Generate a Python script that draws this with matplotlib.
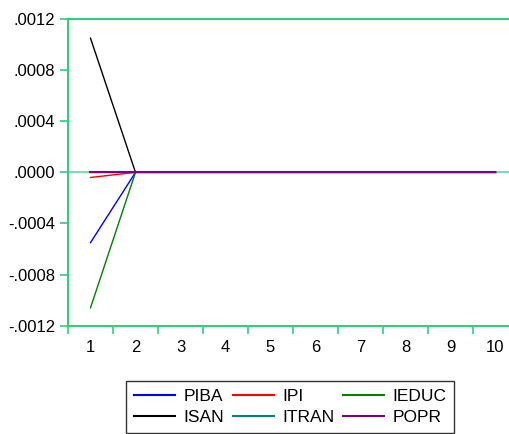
import matplotlib.pyplot as plt
from matplotlib.ticker import FuncFormatter

plt.rcParams['font.family'] = ['Liberation Sans', 'DejaVu Sans']

periodos = list(range(1, 11))
piba = [-0.00055, 0, 0, 0, 0, 0, 0, 0, 0, 0]
ipi = [-0.00004, 0, 0, 0, 0, 0, 0, 0, 0, 0]
ieduc = [-0.00106, 0, 0, 0, 0, 0, 0, 0, 0, 0]
isan = [0.00105, 0, 0, 0, 0, 0, 0, 0, 0, 0]
itran = [0, 0, 0, 0, 0, 0, 0, 0, 0, 0]
popr = [0, 0, 0, 0, 0, 0, 0, 0, 0, 0]

verde = '#2fcf7c'

fig = plt.figure(figsize=(5.1, 4.34), dpi=100)
ax = fig.add_axes([68 / 510, 1 - 325.7 / 434, 450 / 510, 306.7 / 434])

ax.axhline(0, color='#7fdcb0', lw=1.5, zorder=1)
l1, = ax.plot(periodos, piba, color='#0000ff', lw=1, label='PIBA')
l2, = ax.plot(periodos, ipi, color='#ff0000', lw=1, label='IPI')
l3, = ax.plot(periodos, ieduc, color='#008000', lw=1, label='IEDUC')
l4, = ax.plot(periodos, isan, color='#000000', lw=1, label='ISAN')
l5, = ax.plot(periodos, itran, color='#008080', lw=1, label='ITRAN')
l6, = ax.plot(periodos, popr, color='#800080', lw=1.5, label='POPR')

ax.set_xlim(0.5, 10.5)
ax.set_ylim(-0.0012, 0.0012)

for lado in ['left', 'bottom', 'top', 'right']:
    ax.spines[lado].set_color(verde)
    ax.spines[lado].set_linewidth(1.5)

ax.set_yticks([-0.0012, -0.0008, -0.0004, 0.0, 0.0004, 0.0008, 0.0012])
ax.yaxis.set_major_formatter(FuncFormatter(lambda v, p: ('%.4f' % v).replace('0.', '.')))
ax.set_xticks(periodos)
ax.set_xticks([x + 0.5 for x in range(0, 10)], minor=True)
ax.tick_params(axis='x', which='major', length=0, pad=10, labelsize=12)
ax.tick_params(axis='x', which='minor', length=6, color=verde, width=1.2, direction='out')
ax.tick_params(axis='y', length=6, color=verde, width=1.2, labelsize=12, pad=3)

# ordem por linhas como no original
handles = [l1, l4, l2, l5, l3, l6]
leg = fig.legend(handles=handles, labels=[h.get_label() for h in handles],
                 loc='center', bbox_to_anchor=(290 / 510, 1 - 407 / 434), ncol=3,
                 frameon=True, fancybox=False, edgecolor='black', fontsize=12.5,
                 handlelength=2.4, handletextpad=0.45, columnspacing=0.5,
                 labelspacing=0.3, borderpad=0.45)
leg.get_frame().set_linewidth(1)
for h in leg.get_lines():
    h.set_linewidth(1.5)

fig.savefig('out.png', dpi=100)
